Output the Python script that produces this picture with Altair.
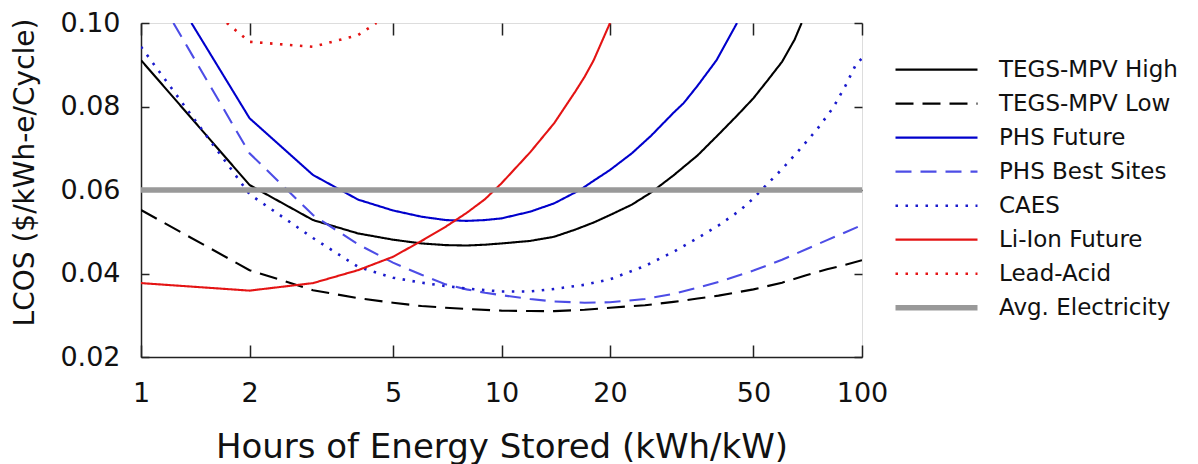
import altair as alt
import pandas as pd

# ---- data ----
series_names = ["TEGS-MPV High", "TEGS-MPV Low", "PHS Future", "PHS Best Sites",
                "CAES", "Li-Ion Future", "Lead-Acid", "Avg. Electricity"]

tegs_high_x = [1, 2, 3, 4, 5, 6, 7, 8, 9, 10, 12, 14, 16, 18, 20, 23, 26, 30, 35, 40, 45, 50, 55, 60, 65, 68]
tegs_high_y = [0.0911, 0.0612, 0.0528, 0.0496, 0.0481, 0.0472, 0.0468, 0.0467, 0.0469, 0.0472,
               0.0478, 0.0488, 0.0505, 0.0522, 0.0540, 0.0565, 0.0594, 0.0635, 0.0683, 0.0733,
               0.0778, 0.0820, 0.0865, 0.0907, 0.0960, 0.1000]

tegs_low_x = [1, 2, 3, 4, 5, 6, 7, 8, 10, 12, 14, 17, 20, 25, 30, 35, 40, 50, 60, 70, 80, 90, 100]
tegs_low_y = [0.0552, 0.0408, 0.0360, 0.0341, 0.0330, 0.0322, 0.0318, 0.0315, 0.0311, 0.0310,
              0.0310, 0.0313, 0.0318, 0.0324, 0.0332, 0.0340, 0.0347, 0.0362, 0.0378, 0.0396,
              0.0410, 0.0421, 0.0432]

phs_future_x = [1.38, 2, 3, 4, 5, 6, 7, 8, 9, 10, 12, 14, 16.5, 18, 20, 23, 26, 30, 32, 35, 39.5, 45]
phs_future_y = [0.1000, 0.0772, 0.0636, 0.0577, 0.0551, 0.0536, 0.0528, 0.0526, 0.0528, 0.0532,
                0.0548, 0.0568, 0.0600, 0.0622, 0.0648, 0.0688, 0.0730, 0.0785, 0.0808, 0.0850,
                0.0911, 0.1000]

phs_best_x = [1.23, 2, 3, 4, 5, 6, 7, 8, 9, 10, 12, 14, 17, 20, 25, 30, 35, 40, 50, 60, 70, 80, 90, 100]
phs_best_y = [0.1000, 0.0688, 0.0540, 0.0470, 0.0426, 0.0397, 0.0374, 0.0362, 0.0354, 0.0348,
              0.0339, 0.0333, 0.0330, 0.0331, 0.0339, 0.0351, 0.0366, 0.0380, 0.0407, 0.0433,
              0.0458, 0.0480, 0.0499, 0.0516]

caes_x = [1, 2, 3, 4, 5, 6, 7, 8, 9, 10, 12, 14, 17, 20, 25, 30, 35, 40, 46, 50, 54, 60, 67, 75,
          83, 90, 96.5, 100]
caes_y = [0.0943, 0.0590, 0.0485, 0.0416, 0.0390, 0.0378, 0.0370, 0.0364, 0.0360, 0.0357,
          0.0357, 0.0363, 0.0373, 0.0386, 0.0418, 0.0452, 0.0485, 0.0515, 0.0552, 0.0580,
          0.0610, 0.0650, 0.0696, 0.0745, 0.0796, 0.0850, 0.0903, 0.0915]

li_ion_x = [1, 2, 3, 4, 5, 6, 7, 8, 9, 10, 12, 14, 16, 17, 18, 20]
li_ion_y = [0.0377, 0.0359, 0.0377, 0.0408, 0.0440, 0.0478, 0.0512, 0.0545, 0.0578, 0.0616,
            0.0690, 0.0760, 0.0835, 0.0871, 0.0910, 0.1000]

lead_acid_x = [1.73, 2, 3, 4, 4.5]
lead_acid_y = [0.1000, 0.0955, 0.0943, 0.0971, 0.1000]

avg_elec_x = [1, 100]
avg_elec_y = [0.06, 0.06]

x_ticks = [1, 2, 5, 10, 20, 50, 100]
y_ticks = [0.02, 0.04, 0.06, 0.08, 0.10]

# ---- table ----
pairs = [(tegs_high_x, tegs_high_y), (tegs_low_x, tegs_low_y), (phs_future_x, phs_future_y),
         (phs_best_x, phs_best_y), (caes_x, caes_y), (li_ion_x, li_ion_y),
         (lead_acid_x, lead_acid_y), (avg_elec_x, avg_elec_y)]
rows = []
for name, (xs, ys) in zip(series_names, pairs):
    for i, (xv, yv) in enumerate(zip(xs, ys)):
        rows.append({"series": name, "hours": xv, "lcos": yv, "order": i})
df = pd.DataFrame(rows)

colors = ["#000000", "#000000", "#0000cc", "#4d4de6", "#1a1acc", "#e41414", "#e41414", "#999999"]
dashes = [[1, 0], [18, 9], [1, 0], [16, 9], [2.5, 7.5], [1, 0], [2.5, 7.5], [1, 0]]

FONT = "DejaVu Sans"
W, H = 721, 334

legend = alt.Legend(
    title=None, orient="none", legendX=754, legendY=30,
    symbolType="stroke", symbolSize=6724, clipHeight=33.4, rowPadding=0,
    symbolOffset=30,
    labelFont=FONT, labelFontSize=23, labelColor="#111", labelOffset=51,
    labelLimit=400, padding=0,
    symbolStrokeWidth=alt.ExprRef(
        "datum.value === 'Avg. Electricity' ? 5.5 : "
        "((datum.value === 'CAES' || datum.value === 'Lead-Acid') ? 2.6 : 2.2)"),
)

stroke_w = (alt.when(alt.datum.series == "Avg. Electricity").then(alt.value(5.5))
            .when(alt.FieldOneOfPredicate(field="series", oneOf=["CAES", "Lead-Acid"]))
            .then(alt.value(2.6))
            .otherwise(alt.value(2.1)))

chart = alt.Chart(df).mark_line(clip=True).encode(
    x=alt.X("hours:Q",
            scale=alt.Scale(type="log", domain=[1, 100], nice=False),
            axis=alt.Axis(values=x_ticks, format="d", title="Hours of Energy Stored (kWh/kW)",
                          ticks=False, grid=True, gridColor="#222", gridWidth=1.5, gridOpacity=1,
                          gridDash=[12, H - 24, 12, 2000], labelFlush=False,
                          labelFont=FONT, labelFontSize=27, labelColor="#111", labelPadding=23,
                          titleFont=FONT, titleFontSize=34, titleFontWeight="normal",
                          titleColor="#111", titleY=100, titleBaseline="alphabetic",
                          domainColor="#222", domainWidth=1.5)),
    y=alt.Y("lcos:Q",
            scale=alt.Scale(domain=[0.02, 0.10], nice=False, zero=False),
            axis=alt.Axis(values=y_ticks, format=".2f", title="LCOS ($/kWh-e/Cycle)",
                          ticks=False, grid=True, gridColor="#222", gridWidth=1.5, gridOpacity=1,
                          gridDash=[8, W - 16, 8, 2000], labelFlush=False,
                          labelFont=FONT, labelFontSize=27, labelColor="#111", labelPadding=21,
                          titleFont=FONT, titleFontSize=28, titleFontWeight="normal",
                          titleColor="#111", titleX=-108, titleY=149, titleAngle=-90,
                          titleAlign="center", titleBaseline="alphabetic",
                          domainColor="#222", domainWidth=1.5)),
    color=alt.Color("series:N", scale=alt.Scale(domain=series_names, range=colors), legend=legend),
    strokeDash=alt.StrokeDash("series:N", scale=alt.Scale(domain=series_names, range=dashes), legend=legend),
    strokeWidth=stroke_w,
    order="order:Q",
).properties(
    width=W, height=H,
    autosize=alt.AutoSizeParams(type="none"),
    padding={"left": 141, "top": 23, "right": 1198 - 141 - W, "bottom": 464 - 23 - H},
).configure_view(stroke="#222", strokeWidth=1.5).configure(background="white")

chart.save("out.html", embed_options={"renderer": "svg", "actions": False})
